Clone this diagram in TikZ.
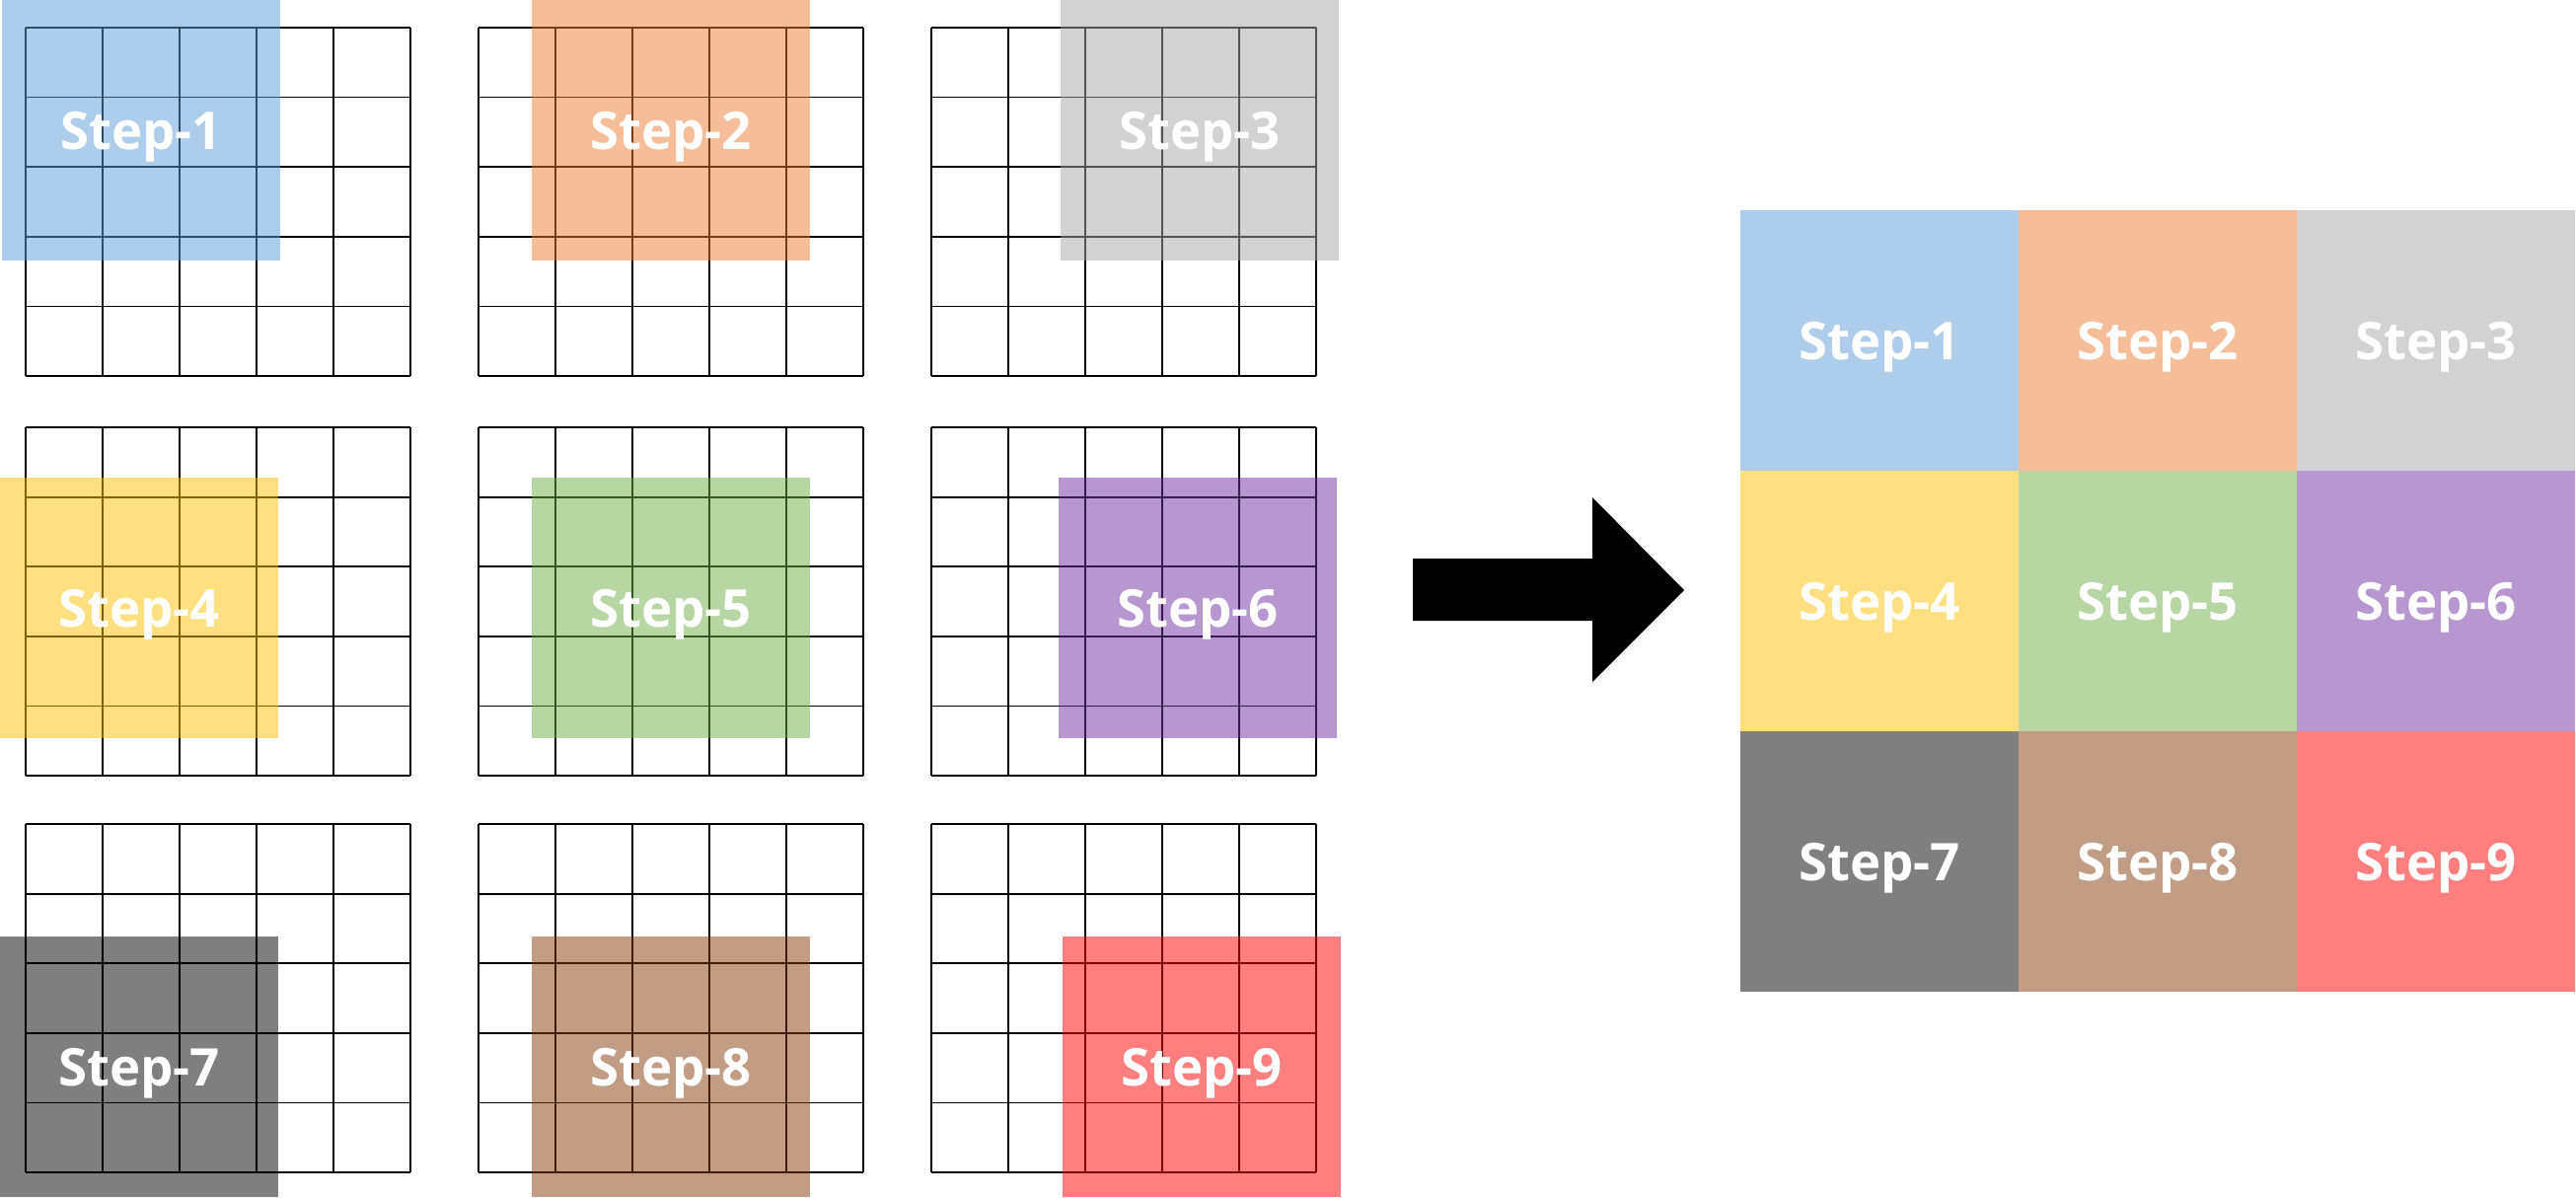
\documentclass[tikz,border=0pt]{standalone}
\usepackage{fontspec}
\newfontfamily\stepfont{Open Sans}
\usepackage{tikz}
\usetikzlibrary{positioning}
\definecolor{colblue}{HTML}{5B9BD5}
\definecolor{colorange}{HTML}{ED7D31}
\definecolor{colgrey}{HTML}{A5A5A5}
\definecolor{colyellow}{HTML}{FFC000}
\definecolor{colgreen}{HTML}{70AD47}
\definecolor{colpurple}{HTML}{7030A0}
\definecolor{colblack}{HTML}{000000}
\definecolor{colbrown}{HTML}{843C0C}
\definecolor{colred}{HTML}{FF0000}
\tikzset{
  gridline/.style={draw=black, line width=0.5pt},
  stepbox/.style={rectangle, draw=none, fill opacity=0.5, text opacity=1,
                  minimum width=28.2mm, minimum height=26.4mm, inner sep=0pt,
                  text depth=0pt, text=white,
                  font=\stepfont\bfseries\fontsize{15pt}{17pt}\selectfont},
  bigarrow/.style={fill=black, draw=none},
}

\begin{document}
\begin{tikzpicture}[x=0.1mm, y=-0.1mm]
  \useasboundingbox (0,0) rectangle (2611,1213);

  % --- nine 5x5 grids, one per step ---
  \foreach \gx in {26,485,944} {
    \foreach \gy in {28,433,835} {
      \foreach \i in {0,...,5} {
        \draw[gridline] (\gx+\i*78, \gy) -- ++(0,353);
        \draw[gridline] (\gx, \gy+\i*70.6) -- ++(390,0);
      }
    }
  }

  % --- 3x3 windows laid over the grids ---
  \foreach \s/\wx/\wy/\col in {1/143/132/colblue, 2/680/132/colorange, 3/1216/132/colgrey,
                               4/141/616/colyellow, 5/680/616/colgreen, 6/1214/616/colpurple,
                               7/141/1081/colblack, 8/680/1081/colbrown, 9/1218/1081/colred} {
    \node[stepbox, fill=\col] (win\s) at (\wx,\wy) {Step-\s};
  }

  % --- arrow ---
  \coordinate (arrowtail) at (1432,566);
  \fill[bigarrow] (arrowtail) -- ++(182,0) -- ++(0,-62) -- (1707,598)
        -- (1614,691) -- ++(0,-62) -- ++(-182,0) -- cycle;

  % --- resulting 3x3 map ---
  \foreach \s/\c/\r/\col in {1/0/0/colblue, 2/1/0/colorange, 3/2/0/colgrey,
                             4/0/1/colyellow, 5/1/1/colgreen, 6/2/1/colpurple,
                             7/0/2/colblack, 8/1/2/colbrown, 9/2/2/colred} {
    \node[stepbox, fill=\col] (res\s)
      at (1764+141+\c*282, 213+132+\r*264) {Step-\s};
  }

\end{tikzpicture}
\end{document}
